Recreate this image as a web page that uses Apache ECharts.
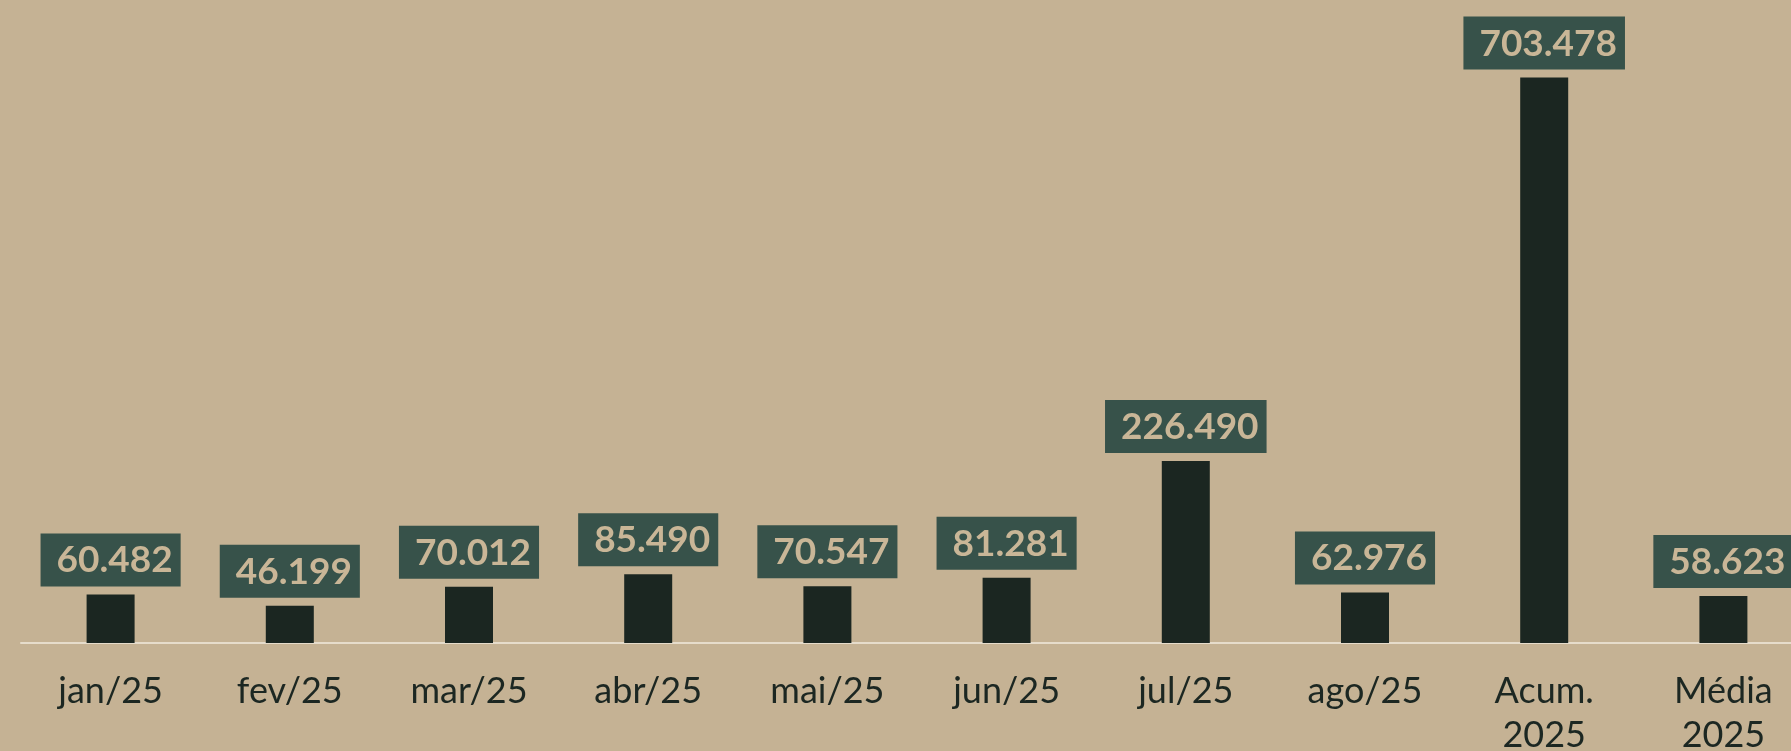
<!DOCTYPE html>
<html>
<head>
<meta charset="utf-8">
<script src="https://cdn.jsdelivr.net/npm/echarts@6/dist/echarts.min.js"></script>
<style>
  html, body { margin: 0; padding: 0; background: #c5b294; }
  #chart { width: 1791px; height: 751px; }
</style>
</head>
<body>
<div id="chart"></div>
<script>
  // categorias e valores
  var categories = ['jan/25', 'fev/25', 'mar/25', 'abr/25', 'mai/25', 'jun/25', 'jul/25', 'ago/25', 'Acum.\n2025', 'Média\n2025'];
  var values = [60482, 46199, 70012, 85490, 70547, 81281, 226490, 62976, 703478, 58623];

  function fmt(v) {
    return String(v).replace(/\B(?=(\d{3})+(?!\d))/g, '.');
  }

  var chart = echarts.init(document.getElementById('chart'));
  var option = {
    backgroundColor: '#c5b294',
    animation: false,
    grid: {
      left: 21,
      width: 1792,
      top: 0,
      bottom: 108,
      outerBoundsMode: 'none'
    },
    xAxis: {
      type: 'category',
      data: categories,
      axisLine: { lineStyle: { color: '#e6dccb', width: 2 } },
      axisTick: { show: false },
      axisLabel: {
        interval: 0,
        margin: 26,
        fontFamily: 'Lato',
        fontSize: 36,
        lineHeight: 44,
        color: '#1c2722'
      }
    },
    yAxis: {
      type: 'value',
      min: 0,
      max: 800000,
      show: false,
      splitLine: { show: false }
    },
    series: [{
      type: 'bar',
      data: values,
      barWidth: 48,
      itemStyle: { color: '#1b2621' },
      label: {
        show: true,
        position: 'top',
        distance: 8,
        formatter: function (p) { return fmt(p.value); },
        backgroundColor: '#37524a',
        padding: [8, 8, 7, 16],
        fontFamily: 'Lato',
        fontWeight: 'bold',
        fontSize: 37,
        lineHeight: 38,
        color: '#c9b697'
      }
    }]
  };
  chart.setOption(option);
</script>
</body>
</html>
